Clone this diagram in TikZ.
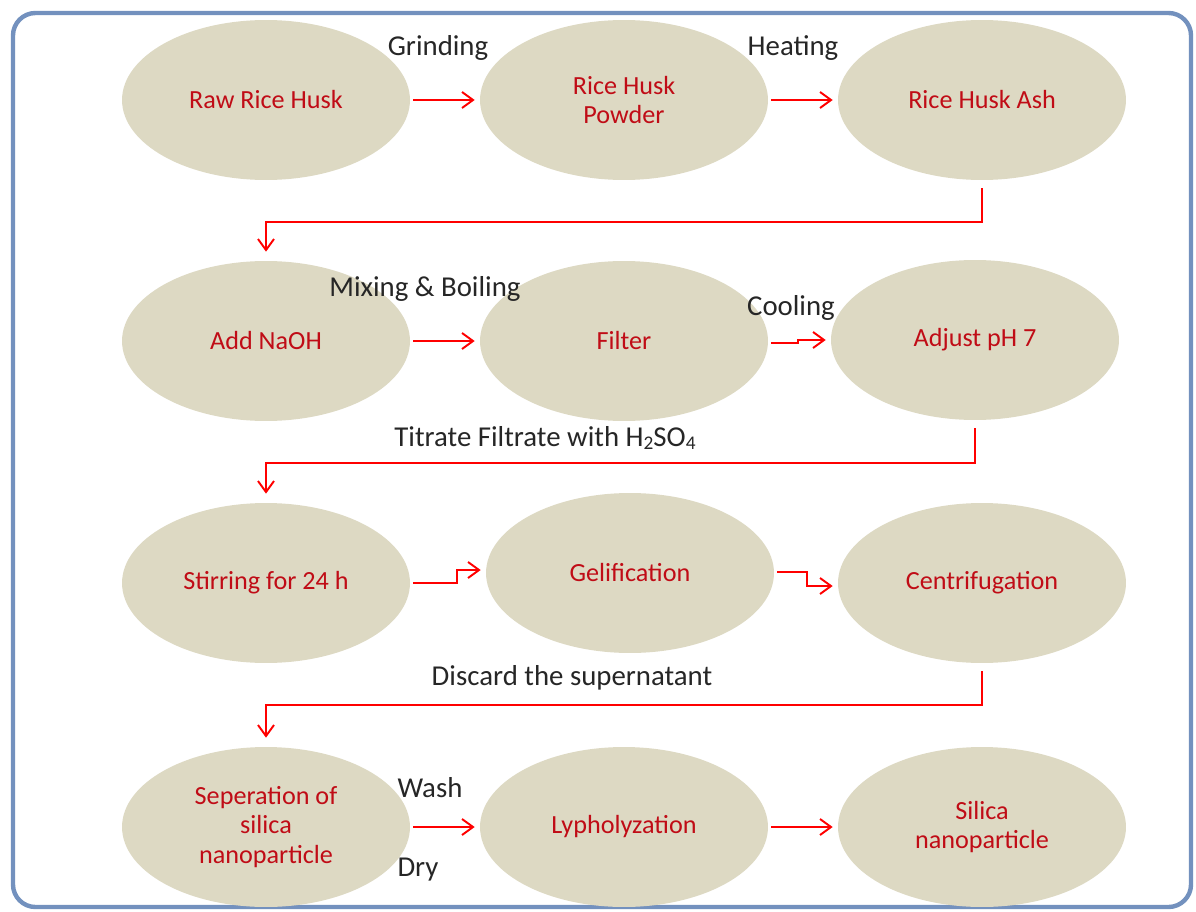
\documentclass[tikz,border=0pt]{standalone}
\usepackage{fontspec}
\setmainfont{Carlito}
\usetikzlibrary{arrows.meta,positioning,shapes.geometric}
\definecolor{husk}{RGB}{221,217,195}
\definecolor{stagered}{RGB}{192,12,22}
\definecolor{framecol}{RGB}{115,145,190}
\newcommand{\lowsub}[1]{\raisebox{-0.25ex}{\fontsize{11}{11}\selectfont #1}}

\begin{document}
\begin{tikzpicture}[x = 0.02cm, y = -0.02cm,
  stage/.style = {ellipse, fill = husk, minimum width = 5.76cm, minimum height = 3.2cm,
    inner sep = 0pt, align = center, text = stagered, font = \fontsize{14.9}{17}\selectfont},
  flow/.style = {-{Straight Barb[length = 0.22cm, width = 0.32cm]}, red, line width = 1.1pt,
    shorten < = 0.06cm, shorten > = 0.1cm},
  note/.style = {text = black!85, font = \fontsize{16.4}{19}\selectfont}]
\useasboundingbox (0, 0) rectangle (1196, 912);
%\draw [help lines, step = 100] (0, 0) grid (1196, 912);
\draw [framecol, line width = 2.5pt, rounded corners = 0.45cm] (13, 13) rectangle (1191, 907);
% row 1
\node [stage] (raw) at (266, 100) {Raw Rice Husk};
\node [stage] (powder) at (624, 100) {Rice Husk\\Powder};
\node [stage] (ash) at (982, 100) {Rice Husk Ash};
\node [note] (grind) at (438, 48) {Grinding};
\node [note] (heat) at (793, 48) {Heating};
\draw [flow] (raw) -- (powder);
\draw [flow] (powder) -- (ash);
% row 2
\node [stage] (naoh) at (266, 341) {Add NaOH};
\node [stage] (filter) at (624, 341) {Filter};
\node [stage] (ph) at (975, 340) {Adjust pH 7};
\node [note] (mix) at (425, 289) {Mixing \& Boiling};
\node [note] (cool) at (791, 308) {Cooling};
\node [note] (titrate) at (545, 438) {Titrate Filtrate with H\lowsub{2}SO\lowsub{4}};
\draw [flow, shorten < = 0.16cm, shorten > = 0.18cm] (ash.south) -- ++(0, 42) -| (naoh.north);
\draw [flow] (naoh) -- (filter);
\draw [flow] ([yshift = -0.04cm]filter.east) -- ++(30, 0) |- (ph.west);
% row 3
\node [stage] (stir) at (266, 583) {Stirring for 24 h};
\node [stage] (gel) at (630, 573) {Gelification};
\node [stage] (centri) at (982, 583) {Centrifugation};
\node [note] (discard) at (572, 678) {Discard the supernatant};
\draw [flow, shorten < = 0.16cm, shorten > = 0.18cm] (ph.south) -- ++(0, 43) -| (stir.north);
\draw [flow] (stir.east) -- ++(47, 0) |- ([yshift = 0.06cm]gel.west);
\draw [flow] ([yshift = 0.02cm]gel.east) -- ++(33, 0) |- ([yshift = -0.06cm]centri.west);
% row 4
\node [stage] (sep) at (266, 827) {Seperation of\\silica\\nanoparticle};
\node [stage] (lyph) at (624, 827) {Lypholyzation};
\node [stage] (silica) at (982, 827) {Silica\\nanoparticle};
\node [note] (wash) at (430, 788) {Wash};
\node [note] (dry) at (418, 870) {Dry};
\draw [flow, shorten < = 0.16cm, shorten > = 0.18cm] (centri.south) -- ++(0, 42) -| (sep.north);
\draw [flow] (sep) -- (lyph);
\draw [flow] (lyph) -- (silica);
\end{tikzpicture}
\end{document}
